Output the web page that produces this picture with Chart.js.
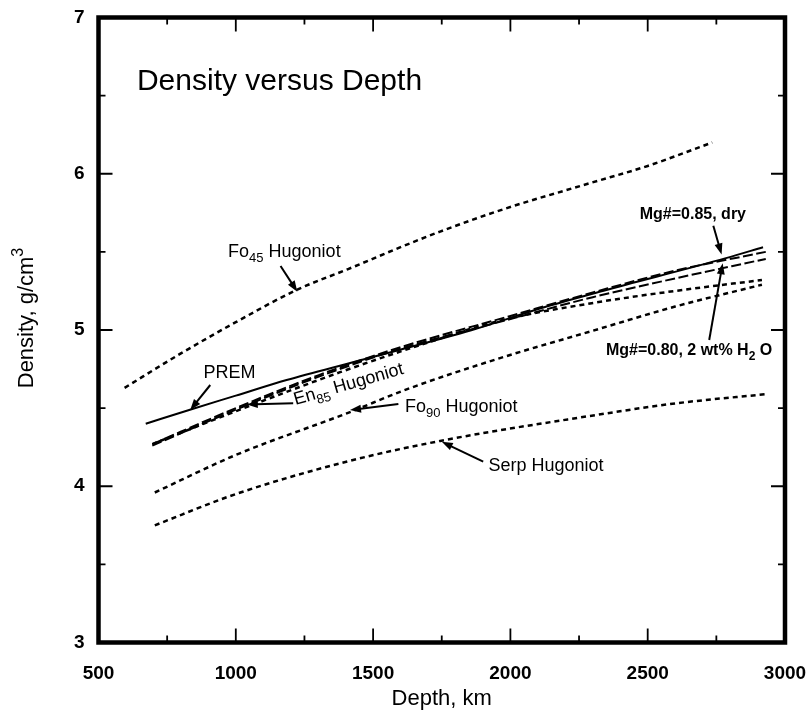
<!DOCTYPE html>
<html>
<head>
<meta charset="utf-8">
<script src="https://cdn.jsdelivr.net/npm/chart.js@4.4.1/dist/chart.umd.min.js"></script>
<style>
  html, body { margin: 0; padding: 0; background: #fff; }
</style>
</head>
<body>
<canvas id="densityChart" width="808" height="718"></canvas>
<script>
// depth (km) and density (g/cm3)
const fo45Depth   = [595, 800, 1000, 1226, 1409, 1600, 1744, 1987, 2290, 2500, 2735];
const fo45Density = [4.63, 4.85, 5.05, 5.26, 5.39, 5.53, 5.63, 5.78, 5.94, 6.05, 6.20];

const premDepth   = [672, 833, 1000, 1185, 1440, 1841, 2132, 2336, 2785, 2920];
const premDensity = [4.40, 4.49, 4.58, 4.68, 4.80, 4.99, 5.15, 5.25, 5.46, 5.53];

const dryDepth    = [696, 1000, 1300, 1600, 2000, 2300, 2600, 2930];
const dryDensity  = [4.27, 4.50, 4.71, 4.89, 5.09, 5.24, 5.38, 5.50];

const wetDepth    = [696, 1000, 1300, 1600, 2000, 2300, 2600, 2930];
const wetDensity  = [4.26, 4.49, 4.70, 4.88, 5.07, 5.21, 5.33, 5.455];

const en85Depth   = [696, 1000, 1380, 1700, 1962, 2290, 2600, 2916];
const en85Density = [4.27, 4.48, 4.73, 4.92, 5.06, 5.17, 5.25, 5.32];

const fo90Depth   = [705, 1000, 1409, 1622, 1962, 2290, 2600, 2916];
const fo90Density = [3.96, 4.20, 4.47, 4.62, 4.82, 4.99, 5.15, 5.29];

const serpDepth   = [705, 1000, 1409, 1744, 2290, 2600, 2934];
const serpDensity = [3.75, 3.95, 4.16, 4.29, 4.45, 4.53, 4.59];

const xTicks = [500, 1000, 1500, 2000, 2500, 3000];
const yTicks = [3, 4, 5, 6, 7];

const FONT = "'Liberation Sans', Arial, Helvetica, sans-serif";

function pts(xs, ys) { return xs.map((x, i) => ({ x: x, y: ys[i] })); }

// text labels, anchored in data units (depth, density)
const labels = [
  { parts: [{ t: "Density versus Depth" }], x: 640, y: 6.536, size: 30 },
  { parts: [{ t: "Fo" }, { t: "45", sub: true }, { t: " Hugoniot" }], x: 972, y: 5.47, size: 18 },
  { parts: [{ t: "PREM" }], x: 882, y: 4.69, size: 18 },
  { parts: [{ t: "En" }, { t: "85", sub: true }, { t: " Hugoniot" }], x: 1217, y: 4.52, size: 18, rot: -16 },
  { parts: [{ t: "Fo" }, { t: "90", sub: true }, { t: " Hugoniot" }], x: 1616, y: 4.477, size: 18 },
  { parts: [{ t: "Serp Hugoniot" }], x: 1920, y: 4.098, size: 18 },
  { parts: [{ t: "Mg#=0.85, dry" }], x: 2471, y: 5.71, size: 16, bold: true },
  { parts: [{ t: "Mg#=0.80, 2 wt% H" }, { t: "2", sub: true }, { t: " O" }], x: 2348, y: 4.84, size: 16, bold: true },
];

// arrows: tail -> head, in data units
const arrows = [
  [1163, 5.41, 1224, 5.245],
  [907, 4.648, 834, 4.488],
  [1209, 4.531, 1040, 4.524],
  [1592, 4.526, 1416, 4.488],
  [1901, 4.157, 1750, 4.285],
  [2739, 5.667, 2769, 5.484],
  [2724, 4.936, 2773, 5.427],
];

function drawRich(ctx, parts, x, y, size, bold) {
  const w = bold ? "bold " : "";
  let cx = x;
  parts.forEach(p => {
    const s = p.sub || p.sup ? Math.round(size * 0.72) : size;
    ctx.font = w + s + "px " + FONT;
    const dy = p.sub ? size * 0.3 : (p.sup ? -size * 0.45 : 0);
    ctx.fillText(p.t, cx, y + dy);
    cx += ctx.measureText(p.t).width;
  });
}

function drawArrow(ctx, x1, y1, x2, y2) {
  const ang = Math.atan2(y2 - y1, x2 - x1);
  const len = 11, half = 4;
  ctx.beginPath();
  ctx.moveTo(x1, y1);
  ctx.lineTo(x2 - Math.cos(ang) * len * 0.8, y2 - Math.sin(ang) * len * 0.8);
  ctx.stroke();
  ctx.beginPath();
  ctx.moveTo(x2, y2);
  ctx.lineTo(x2 - Math.cos(ang) * len + Math.sin(ang) * half, y2 - Math.sin(ang) * len - Math.cos(ang) * half);
  ctx.lineTo(x2 - Math.cos(ang) * len - Math.sin(ang) * half, y2 - Math.sin(ang) * len + Math.cos(ang) * half);
  ctx.closePath();
  ctx.fill();
}

const decorations = {
  id: "decorations",
  afterDraw(chart) {
    const ctx = chart.ctx;
    const a = chart.chartArea;
    const xs = chart.scales.x, ys = chart.scales.y;
    ctx.save();
    ctx.strokeStyle = "#000";
    ctx.fillStyle = "#000";

    // inward ticks on all four sides
    ctx.lineWidth = 1.8;
    ctx.beginPath();
    for (let v = 750; v < 3000; v += 250) {
      const px = xs.getPixelForValue(v);
      const len = v % 500 === 0 ? 14 : 7;
      ctx.moveTo(px, a.bottom); ctx.lineTo(px, a.bottom - len);
      ctx.moveTo(px, a.top);    ctx.lineTo(px, a.top + len);
    }
    for (let v = 3.5; v < 7; v += 0.5) {
      const py = ys.getPixelForValue(v);
      const len = v % 1 === 0 ? 14 : 7;
      ctx.moveTo(a.left, py);  ctx.lineTo(a.left + len, py);
      ctx.moveTo(a.right, py); ctx.lineTo(a.right - len, py);
    }
    ctx.stroke();

    // frame
    ctx.lineWidth = 4.5;
    ctx.strokeRect(a.left, a.top, a.right - a.left, a.bottom - a.top);

    // arrows
    ctx.lineWidth = 2;
    arrows.forEach(r => {
      drawArrow(ctx, xs.getPixelForValue(r[0]), ys.getPixelForValue(r[1]),
                     xs.getPixelForValue(r[2]), ys.getPixelForValue(r[3]));
    });

    // labels
    ctx.textBaseline = "alphabetic";
    ctx.textAlign = "left";
    labels.forEach(l => {
      const px = xs.getPixelForValue(l.x), py = ys.getPixelForValue(l.y);
      if (l.rot) {
        ctx.save();
        ctx.translate(px, py);
        ctx.rotate(l.rot * Math.PI / 180);
        drawRich(ctx, l.parts, 0, 0, l.size, l.bold);
        ctx.restore();
      } else {
        drawRich(ctx, l.parts, px, py, l.size, l.bold);
      }
    });

    // axis titles
    ctx.font = "22px " + FONT;
    ctx.textAlign = "center";
    ctx.fillText("Depth, km", (a.left + a.right) / 2, 705);

    ctx.save();
    ctx.translate(33, (a.top + a.bottom) / 2 - 12);
    ctx.rotate(-Math.PI / 2);
    const yParts = [{ t: "Density, g/cm" }, { t: "3", sup: true }];
    ctx.font = "22px " + FONT;
    const w1 = ctx.measureText(yParts[0].t).width;
    ctx.font = "16px " + FONT;
    const w2 = ctx.measureText("3").width;
    ctx.textAlign = "left";
    drawRich(ctx, yParts, -(w1 + w2) / 2, 0, 22, false);
    ctx.restore();

    ctx.restore();
  }
};

const lineBase = {
  borderColor: "#000",
  pointRadius: 0,
  fill: false,
  cubicInterpolationMode: "monotone",
};

// pin the plot box; stop the edge labels from pushing it inward
function pinScale(s, size) {
  if (s.isHorizontal()) s.height = size; else s.width = size;
  s.paddingLeft = 0; s.paddingRight = 0; s.paddingTop = 0; s.paddingBottom = 0;
}

new Chart(document.getElementById("densityChart").getContext("2d"), {
  type: "line",
  data: {
    datasets: [
      Object.assign({ label: "Fo45 Hugoniot", data: pts(fo45Depth, fo45Density), borderWidth: 2.5, borderDash: [5, 4] }, lineBase),
      Object.assign({ label: "PREM", data: pts(premDepth, premDensity), borderWidth: 2 }, lineBase),
      Object.assign({ label: "Mg#=0.85, dry", data: pts(dryDepth, dryDensity), borderWidth: 2, borderDash: [10, 3.5] }, lineBase),
      Object.assign({ label: "Mg#=0.80, 2 wt% H2O", data: pts(wetDepth, wetDensity), borderWidth: 2, borderDash: [10, 3.5] }, lineBase),
      Object.assign({ label: "En85 Hugoniot", data: pts(en85Depth, en85Density), borderWidth: 2.5, borderDash: [5, 4] }, lineBase),
      Object.assign({ label: "Fo90 Hugoniot", data: pts(fo90Depth, fo90Density), borderWidth: 2.5, borderDash: [5, 4] }, lineBase),
      Object.assign({ label: "Serp Hugoniot", data: pts(serpDepth, serpDensity), borderWidth: 2.5, borderDash: [5, 4] }, lineBase),
    ]
  },
  options: {
    responsive: false,
    animation: false,
    devicePixelRatio: 1,
    layout: { padding: { top: 17.5, right: 23, left: 0, bottom: 0 } },
    plugins: { legend: { display: false }, tooltip: { enabled: false } },
    scales: {
      x: {
        type: "linear", min: 500, max: 3000,
        grid: { display: false, drawTicks: false },
        border: { display: false },
        afterBuildTicks: s => { s.ticks = xTicks.map(v => ({ value: v })); },
        ticks: { padding: 20, color: "#000", maxRotation: 0, font: { family: FONT, size: 19, weight: "bold" },
                 callback: v => String(v) },
        afterFit: s => pinScale(s, 75.5)
      },
      y: {
        type: "linear", min: 3, max: 7,
        grid: { display: false, drawTicks: false },
        border: { display: false },
        afterBuildTicks: s => { s.ticks = yTicks.map(v => ({ value: v })); },
        ticks: { padding: 14, color: "#000", font: { family: FONT, size: 19, weight: "bold" },
                 callback: v => String(v) },
        afterFit: s => pinScale(s, 98.5)
      }
    }
  },
  plugins: [decorations]
});
</script>
</body>
</html>
